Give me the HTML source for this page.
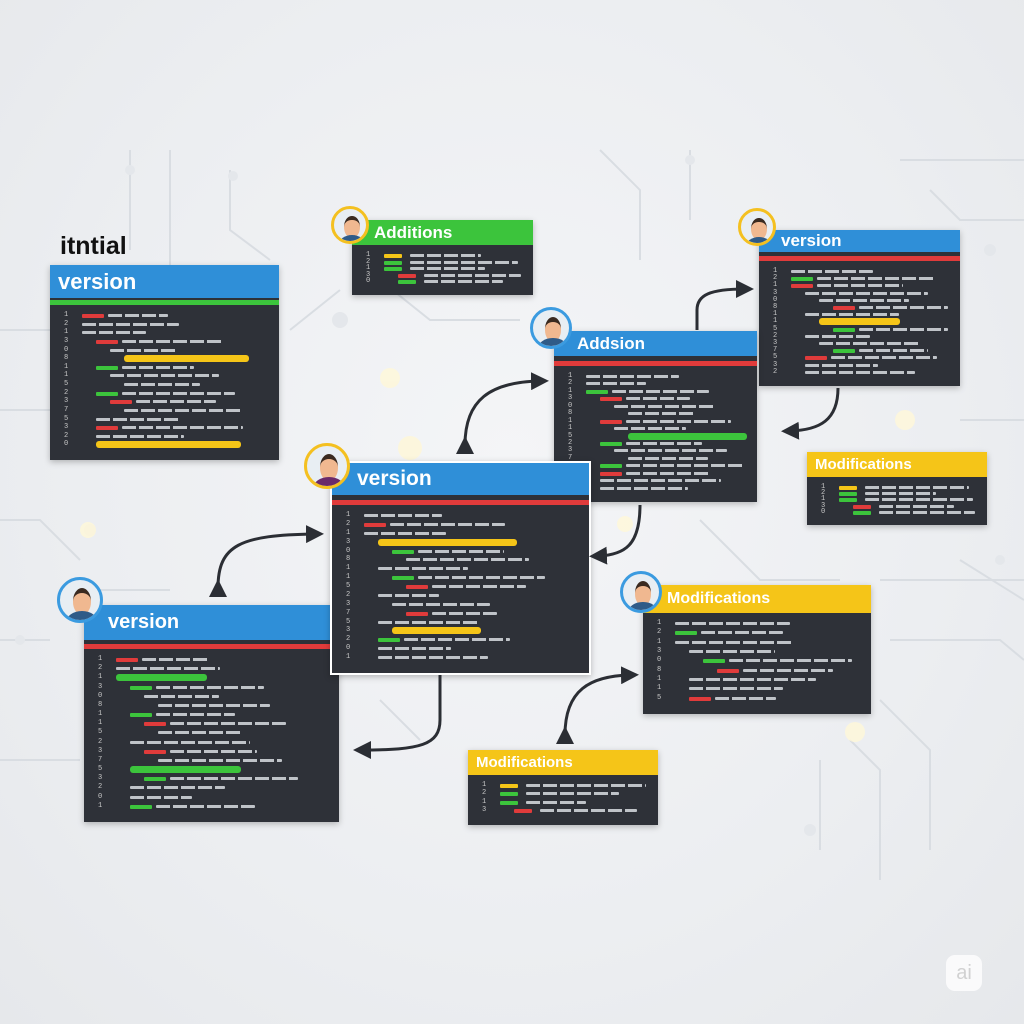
<!DOCTYPE html>
<html><head><meta charset="utf-8">
<style>
body{margin:0;width:1024px;height:1024px;overflow:hidden;background:radial-gradient(ellipse at 50% 45%,#f4f5f7 0%,#eceef1 60%,#e6e8eb 100%);font-family:"Liberation Sans",sans-serif;position:relative}
.p{position:absolute;background:#2e3138;box-shadow:0 2px 6px rgba(0,0,0,.25)}
.h{position:absolute;left:0;top:0;right:0;color:#fff;font-weight:bold;display:flex;align-items:center}
.s{position:absolute;left:0;right:0}
.av{position:absolute;border-radius:50%;box-sizing:border-box;overflow:hidden}
.ln{position:absolute;color:#c8c8c8;font-size:7px;font-family:"Liberation Mono",monospace}
.b{position:absolute;height:3px;border-radius:1px}
svg{position:absolute;left:0;top:0}
</style></head><body>
<svg width="1024" height="1024">
<g stroke="#d9dde2" stroke-width="2" fill="none">
<path d="M0 330 H120 L170 280 V150"/><path d="M0 410 H60 L110 360"/><path d="M130 150 V250"/><path d="M230 170 V230 L270 260"/>
<path d="M0 520 H40 L80 560"/><path d="M0 640 H50"/><path d="M0 760 H80"/><path d="M600 150 L640 190 V260"/><path d="M690 150 V220"/>
<path d="M900 160 H1024"/><path d="M930 190 L960 220 H1024"/><path d="M960 420 H1024"/><path d="M880 580 H1024"/><path d="M890 640 H1000 L1024 660"/>
<path d="M880 700 L930 750 V850"/><path d="M850 740 L880 770 V880"/><path d="M820 760 V850"/><path d="M960 560 L1024 600"/><path d="M700 520 L760 580 H840"/>
<path d="M380 280 L430 320 H520"/><path d="M290 330 L340 290"/><path d="M170 590 H60"/><path d="M380 700 L420 740"/>
</g>
<g fill="#e4e7eb"><circle cx="233" cy="176" r="5"/><circle cx="130" cy="170" r="5"/><circle cx="690" cy="160" r="5"/><circle cx="990" cy="250" r="6"/><circle cx="1000" cy="560" r="5"/><circle cx="810" cy="830" r="6"/><circle cx="340" cy="320" r="8"/><circle cx="90" cy="530" r="6"/><circle cx="20" cy="640" r="5"/></g>
<g fill="#fff7d8" opacity=".8"><circle cx="390" cy="378" r="10"/><circle cx="410" cy="448" r="12"/><circle cx="905" cy="420" r="10"/><circle cx="855" cy="732" r="10"/><circle cx="88" cy="530" r="8"/><circle cx="625" cy="524" r="8"/></g>
</svg>
<div style="position:absolute;left:60px;top:232px;font-size:25px;font-weight:bold;color:#111">itntial</div>
<div id="root"></div>
<svg width="1024" height="1024" style="z-index:10">
<defs><marker id="a" markerWidth="6" markerHeight="6" refX="3" refY="3" orient="auto" markerUnits="strokeWidth"><path d="M0 0 L6 3 L0 6Z" fill="#2b2e34"/></marker></defs>
<g stroke="#2b2e34" stroke-width="3" fill="none">
<path d="M465 445 C465 400 490 382 540 381" marker-end="url(#a)" marker-start="url(#a)"/>
<path d="M697 330 V310 C697 295 710 289 745 289" marker-end="url(#a)"/>
<path d="M838 388 C838 420 820 430 790 431" marker-end="url(#a)"/>
<path d="M640 505 C640 545 625 555 598 556" marker-end="url(#a)"/>
<path d="M218 588 C218 545 240 535 315 534" marker-end="url(#a)" marker-start="url(#a)"/>
<path d="M440 675 V720 C440 745 420 750 362 750" marker-end="url(#a)"/>
<path d="M565 735 C565 690 590 676 630 675" marker-end="url(#a)" marker-start="url(#a)"/>
</g></svg>
<div style="position:absolute;left:946px;top:955px;width:36px;height:36px;border-radius:9px;background:#fff;opacity:.8;color:#ccc;font-size:20px;text-align:center;line-height:36px">ai</div>
<script>
const P=[
[50,265,229,195,33,'#2f8fd8','version','#3cc43c',35,22,16,null],
[352,220,181,75,25,'#3cc43c','Additions',null,0,17,5,[350,225,19,'#f4c020']],
[759,230,201,156,22,'#2f8fd8','version','#e03b3b',26,17,15,[757,227,19,'#f4c020']],
[554,331,203,171,25,'#2f8fd8','Addsion','#e03b3b',30,17,16,[551,328,21,'#3b9be0']],
[807,452,180,73,25,'#f5c518','Modifications',null,0,15,5,null],
[643,585,228,129,28,'#f5c518','Modifications',null,0,16,9,[641,592,21,'#3b9be0']],
[468,750,190,75,25,'#f5c518','Modifications',null,0,15,4,null],
[84,605,255,217,35,'#2f8fd8','version','#e03b3b',39,20,17,[80,600,23,'#3b9be0']],
[330,461,257,210,32,'#2f8fd8','version','#e03b3b',37,21,17,[327,466,23,'#f4c020']]
];
const nums="1213081152375320";
let html='';
P.forEach((p,pi)=>{
 const [x,y,w,h,hh,hc,t,sc,sy,fs,n,av]=p;
 const border=pi==8?'border:2px solid #fff;':'';
 html+=`<div class="p" style="left:${x}px;top:${y}px;width:${w}px;height:${h}px;${border}">`;
 html+=`<div class="h" style="height:${hh}px;background:${hc};font-size:${fs}px;padding-left:${av?av[0]+av[2]+5-x:8}px">${t}</div>`;
 if(sc)html+=`<div class="s" style="top:${sy}px;height:5px;background:${sc}"></div>`;
 const top=sc?sy+14:hh+9, step=(h-top-8)/n;
 for(let i=0;i<n;i++){
  const yy=top+i*step;
  html+=`<div class="ln" style="left:14px;top:${yy-3}px">${nums[i%16]}</div>`;
  const ind=(i<3?0:i<n-3?(i%3+1):1)*14;
  let xx=32+ind;
  const seed=(i*7+pi*3)%10;
  if(n<=5||seed<4){const c=n<=5?['#f5c518','#3cc43c','#3cc43c','#e03b3b','#3cc43c'][i]:(seed<2?'#e03b3b':'#3cc43c');
   html+=`<div class="b" style="left:${xx}px;top:${yy}px;width:${n<=5?18:22}px;height:4px;background:${c}"></div>`;xx+=26;}
  const L=Math.min(w-xx-12,60+((i*37+pi*11)%70));
  if(seed==5&&n>10){html+=`<div class="b" style="left:${xx}px;top:${yy-2}px;width:${Math.min(L+20,w-xx-10)}px;height:7px;border-radius:3px;background:${pi%2?'#3cc43c':'#f5c518'}"></div>`;}
  else html+=`<div class="b" style="left:${xx}px;top:${yy}px;width:${L}px;height:3px;background:repeating-linear-gradient(90deg,#bfc3c8 0 14px,transparent 14px 17px)"></div>`;
 }
 html+='</div>';
 if(av){const [ax,ay,r,bc]=av;
  html+=`<div class="av" style="left:${ax-r}px;top:${ay-r}px;width:${2*r}px;height:${2*r}px;border:3px solid ${bc};background:#e8eef3;z-index:5">
  <div style="position:absolute;left:${r*0.55}px;top:${r*0.35}px;width:${r*0.8}px;height:${r*0.95}px;border-radius:50%;background:#f0b890;border-top:${r*0.25}px solid #3a2a20"></div>
  <div style="position:absolute;left:${r*0.25}px;top:${r*1.35}px;width:${r*1.4}px;height:${r}px;border-radius:50% 50% 0 0;background:${pi==8?'#6a2a6a':'#2f5b88'}"></div></div>`;}
});
document.getElementById('root').innerHTML=html;
</script>
</body></html>
